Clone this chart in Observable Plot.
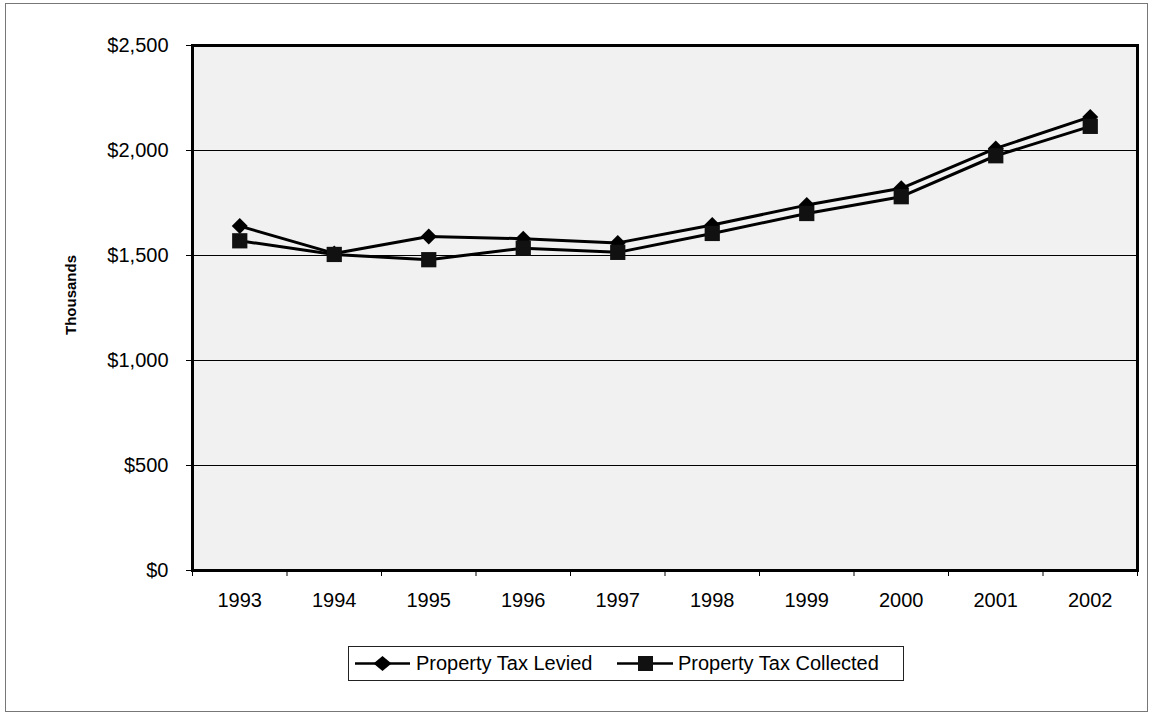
<!DOCTYPE html>
<html>
<head>
<meta charset="utf-8">
<script src="https://cdn.jsdelivr.net/npm/d3@7"></script>
<script src="https://cdn.jsdelivr.net/npm/@observablehq/plot@0.6"></script>
<style>
  html, body { margin: 0; padding: 0; background: #fff; }
  body { font-family: "Liberation Sans", Arial, sans-serif; }
  #wrap { position: relative; width: 1151px; height: 716px; overflow: hidden; }
  #outer { position: absolute; left: 5px; top: 3px; width: 1143px; height: 709px; border: 1px solid #777; box-sizing: border-box; }
  #chart { position: absolute; left: 0; top: 0; }
  #ylabel { position: absolute; left: 70px; top: 295px; transform: translate(-50%, -50%) rotate(-90deg); font-weight: bold; font-size: 15px; white-space: nowrap; }
  #legend { position: absolute; left: 348px; top: 646px; width: 556px; height: 35px; border: 1px solid #222; box-sizing: border-box; background: #fff; }
  #legend svg { position: absolute; left: 0; top: 0; }
  #legend .lt { position: absolute; top: 5px; font-size: 20px; line-height: 22px; white-space: nowrap; }
</style>
</head>
<body>
<div id="wrap">
  <div id="outer"></div>
  <div id="chart"></div>
  <div id="ylabel">Thousands</div>
  <div id="legend"></div>
</div>
<script>
// ---- data ----
const years = [1993, 1994, 1995, 1996, 1997, 1998, 1999, 2000, 2001, 2002];
const xTickLabels = ["1993", "1994", "1995", "1996", "1997", "1998", "1999", "2000", "2001", "2002"];
const levied = [1640, 1510, 1590, 1580, 1560, 1645, 1740, 1820, 2010, 2160];
const collected = [1570, 1505, 1480, 1535, 1515, 1605, 1700, 1780, 1975, 2115];
const yTicks = [0, 500, 1000, 1500, 2000, 2500];
const yTickLabels = ["$0", "$500", "$1,000", "$1,500", "$2,000", "$2,500"];
const seriesNames = ["Property Tax Levied", "Property Tax Collected"];

// derived tables
const leviedData = years.map((y, i) => ({year: y, value: levied[i]}));
const collectedData = years.map((y, i) => ({year: y, value: collected[i]}));
const boundaries = [years[0] - 0.5, ...years.map(y => y + 0.5)];
const gridVals = yTicks.filter(v => v > 0 && v < yTicks[yTicks.length - 1]);

const chart = Plot.plot({
  width: 1151,
  height: 630,
  marginLeft: 192,
  marginRight: 14,
  marginTop: 45,
  marginBottom: 60,
  style: {fontFamily: "'Liberation Sans', Arial, sans-serif", color: "black", background: "transparent", overflow: "visible"},
  x: {domain: [boundaries[0], boundaries[boundaries.length - 1]]},
  y: {domain: [0, 2500]},
  marks: [
    Plot.frame({fill: "#f1f1f1"}),
    Plot.ruleY(gridVals, {stroke: "black", strokeWidth: 1}),
    Plot.axisY(yTicks, {tickSize: 6, tickPadding: 18, fontSize: 20, label: null,
      tickFormat: d => yTickLabels[yTicks.indexOf(d)]}),
    Plot.axisX(boundaries, {tickSize: 6, tickFormat: () => "", label: null}),
    Plot.axisX(years, {tickSize: 0, tickPadding: 22, fontSize: 20, label: null,
      tickFormat: d => xTickLabels[years.indexOf(d)]}),
    Plot.line(leviedData, {x: "year", y: "value", stroke: "black", strokeWidth: 3}),
    Plot.line(collectedData, {x: "year", y: "value", stroke: "black", strokeWidth: 3}),
    Plot.dot(leviedData, {x: "year", y: "value", symbol: "diamond2", r: 7.2, fill: "black", stroke: "none"}),
    Plot.dot(collectedData, {x: "year", y: "value", symbol: "square", r: 8.6, fill: "#111", stroke: "none"}),
    Plot.frame({stroke: "black", strokeWidth: 3})
  ]
});
document.getElementById("chart").appendChild(chart);

// ---- legend ----
const legend = document.getElementById("legend");
const ns = "http://www.w3.org/2000/svg";
const lsvg = document.createElementNS(ns, "svg");
lsvg.setAttribute("width", 556);
lsvg.setAttribute("height", 35);
lsvg.innerHTML = `
  <line x1="6" x2="61" y1="16.5" y2="16.5" stroke="black" stroke-width="2.5"/>
  <path d="M33.5,9 L42.5,16.5 L33.5,24 L24.5,16.5 Z" fill="black"/>
  <line x1="268" x2="324" y1="16.5" y2="16.5" stroke="black" stroke-width="2.5"/>
  <rect x="289" y="9" width="15" height="15" fill="#111"/>
`;
legend.appendChild(lsvg);
const t1 = document.createElement("div");
t1.className = "lt"; t1.style.left = "67px"; t1.textContent = seriesNames[0];
const t2 = document.createElement("div");
t2.className = "lt"; t2.style.left = "329px"; t2.textContent = seriesNames[1];
legend.appendChild(t1);
legend.appendChild(t2);
</script>
</body>
</html>
